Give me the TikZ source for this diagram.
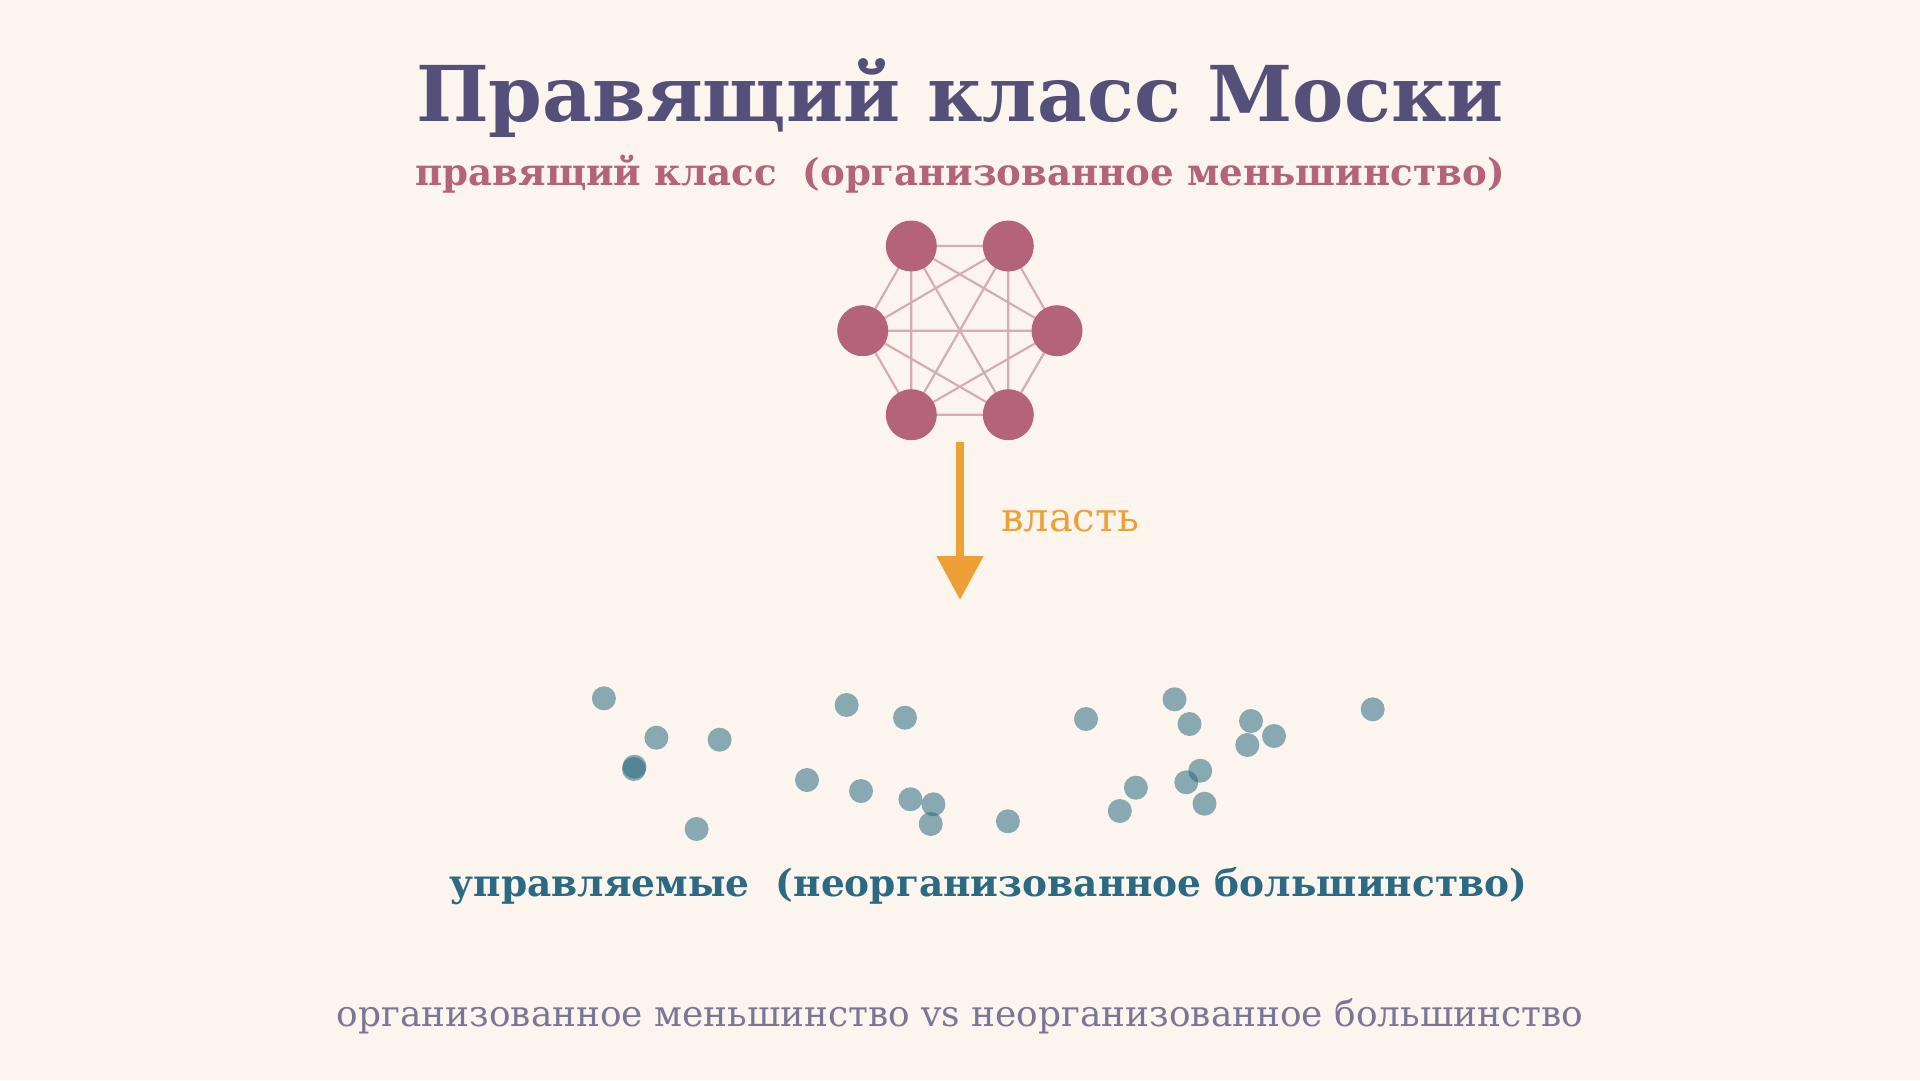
\documentclass[tikz,border=0pt]{standalone}
\usepackage{fontspec}
\setmainfont{DejaVu Serif}
\usetikzlibrary{arrows.meta, backgrounds}
\definecolor{paper}{HTML}{FBF5EE}
\definecolor{titlecol}{HTML}{55507A}
\definecolor{elitecol}{HTML}{B5637A}
\definecolor{masscol}{HTML}{2B6A82}
\definecolor{powercol}{HTML}{EDA035}
\definecolor{notecol}{HTML}{7B7598}
\tikzset{
	x=1pt, y=-1pt, % one unit per pixel, y runs downward
	elite/.style={circle, fill=elitecol, minimum size=51pt, inner sep=0pt}, % members of the ruling class
	tie/.style={draw=elitecol, draw opacity=0.5, line width=2.2pt}, % links inside the ruling class
	mass/.style={circle, fill=masscol, fill opacity=0.55, minimum size=24pt, inner sep=0pt}, % the ruled
	txt/.style={inner sep=0pt, anchor=base}, % texts placed on their baseline
}
\begin{document}
\begin{tikzpicture}
	\useasboundingbox (0,0) rectangle (1920,1080);
	\node[txt, titlecol] (title) at (960,121.7) {\fontsize{77}{77}\selectfont\bfseries Правящий класс Моски};
	\node[txt, elitecol] (sub) at (960,185) {\fontsize{37.2}{37.2}\selectfont\bfseries правящий класс\ \ (организованное меньшинство)};
			\node[elite] (m1) at (911.3,246) {};
			\node[elite] (m2) at (1008.3,246) {};
			\node[elite] (m3) at (1057,330.7) {};
			\node[elite] (m4) at (1008.3,414.7) {};
			\node[elite] (m5) at (911.3,414.7) {};
			\node[elite] (m6) at (862.7,330.7) {};
	\begin{pgfonlayer}{background}
	\fill[paper] (0,0) rectangle (1920,1080);
	\draw[tie] (m1.center) -- (m2.center) (m1.center) -- (m3.center) (m1.center) -- (m4.center)
			(m1.center) -- (m5.center) (m1.center) -- (m6.center)
			(m2.center) -- (m3.center) (m2.center) -- (m4.center) (m2.center) -- (m5.center)
			(m2.center) -- (m6.center)
			(m3.center) -- (m4.center) (m3.center) -- (m5.center) (m3.center) -- (m6.center)
			(m4.center) -- (m5.center) (m4.center) -- (m6.center)
			(m5.center) -- (m6.center);
	\end{pgfonlayer}
	\coordinate (powtop) at (960,441.7);
	\coordinate (powtip) at (960,600);
	\draw[powercol, line width=8pt, -{Triangle[length=44pt, width=45pt]}] (powtop) -- (powtip);
	\node[txt, anchor=base west, powercol] (power) at (1001,531.7) {\fontsize{40}{40}\selectfont власть};
			\node[mass] (p1) at (603.9,698.3) {};
			\node[mass] (p2) at (656.4,737.7) {};
			\node[mass] (p3) at (719.6,739.7) {};
			\node[mass] (p4) at (634.5,766.7) {};
			\node[mass] (p5) at (633.9,769) {};
			\node[mass] (p6) at (696.6,829) {};
			\node[mass] (p7) at (846.6,705) {};
			\node[mass] (p8) at (905,717.7) {};
			\node[mass] (p9) at (807,780) {};
			\node[mass] (p10) at (861,791) {};
			\node[mass] (p11) at (910.4,799.3) {};
			\node[mass] (p12) at (933.4,804.3) {};
			\node[mass] (p13) at (930.7,824) {};
			\node[mass] (p14) at (1007.9,821.3) {};
			\node[mass] (p15) at (1086,719) {};
			\node[mass] (p16) at (1174.5,699.3) {};
			\node[mass] (p17) at (1189.5,724) {};
			\node[mass] (p18) at (1251,721) {};
			\node[mass] (p19) at (1274,736) {};
			\node[mass] (p20) at (1247.3,745) {};
			\node[mass] (p21) at (1200.2,770.7) {};
			\node[mass] (p22) at (1186.3,782.3) {};
			\node[mass] (p23) at (1135.9,787.7) {};
			\node[mass] (p24) at (1119.8,811) {};
			\node[mass] (p25) at (1204.5,803.7) {};
			\node[mass] (p26) at (1372.7,709.3) {};
	\node[txt, masscol] (ruled) at (988.5,896.7) {\fontsize{37.5}{37.5}\selectfont\bfseries управляемые\ \ (неорганизованное большинство)};
	\node[txt, notecol] (note) at (960,1026.7) {\fontsize{35.9}{35.9}\selectfont организованное меньшинство vs неорганизованное большинство};
\end{tikzpicture}
\end{document}
